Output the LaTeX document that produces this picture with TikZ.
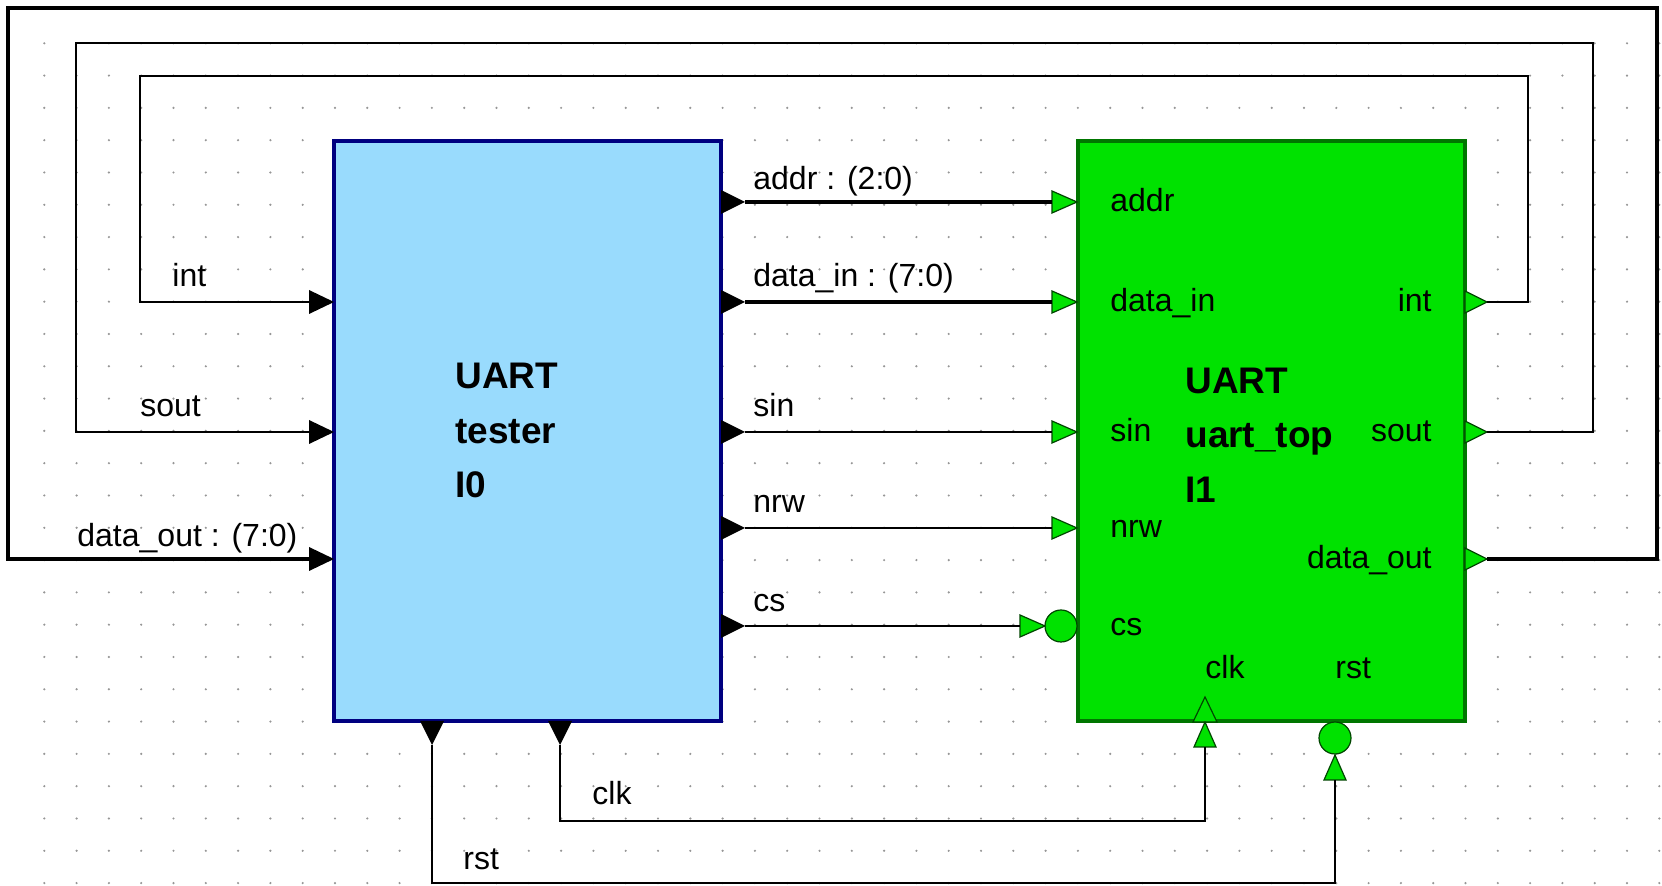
\documentclass[tikz,border=0pt]{standalone}
\usepackage{fontspec}
\setmainfont{Liberation Sans}
\usetikzlibrary{calc}

\definecolor{testerblue}{RGB}{153,219,253}
\definecolor{testeredge}{RGB}{0,0,128}
\definecolor{uartgreen}{RGB}{0,226,0}
\definecolor{uartedge}{RGB}{0,118,0}
\definecolor{pinedge}{RGB}{0,70,0}
\definecolor{griddot}{RGB}{150,150,150}

\tikzset{
  tpinout/.pic={\fill (0,-12) -- (24,0) -- (0,12) -- cycle; \coordinate (-end) at (24,0);},
  tpinin/.pic={\fill (-25,-12) -- (0,0) -- (-25,12) -- cycle; \coordinate (-end) at (-25,0);},
  upinin/.pic={\filldraw[grnpin] (-25,-11) -- (0,0) -- (-25,11) -- cycle; \coordinate (-end) at (-25,0);},
  upinout/.pic={\filldraw[grnpin] (0,-11) -- (22,0) -- (0,11) -- cycle; \coordinate (-end) at (22,0);}
}

\begin{document}
\begin{tikzpicture}[
x=0.5pt, y=-0.5pt,
wire/.style={line width=1pt},
bus/.style={line width=2pt},
blockbox/.style={line width=2pt, minimum width=193.5pt, minimum height=290pt, inner sep=0pt},
testerblk/.style={blockbox, draw=testeredge, fill=testerblue},
uartblk/.style={blockbox, draw=uartedge, fill=uartgreen},
grnpin/.style={fill=uartgreen, draw=pinedge, line width=0.6pt},
bubble/.style={circle, minimum size=16pt, inner sep=0pt, fill=uartgreen, draw=pinedge, line width=0.6pt},
sig/.style={font=\fontsize{16}{19}\selectfont, inner sep=0pt, anchor=base west},
portr/.style={sig, anchor=base east},
blkname/.style={font=\fontsize{18.5}{27.25}\selectfont\bfseries, align=left, anchor=west, inner sep=0pt}
]
\path[use as bounding box, fill=white] (0,0) rectangle (1662,886);

% dot grid
\foreach \i in {1,...,51} {
  \foreach \j in {1,...,27} {
    \fill[griddot] (12+32.3*\i,11+32.3*\j) circle (0.6pt);
  }
}

% blocks
\node[testerblk] (tester) at (527.5,431) {};
\node[uartblk] (uart) at (1271,431.5) {};
\node[blkname] (tester-name) at (455,430.5) {UART\\tester\\I0};
\node[blkname] (uart-name) at (1185,435) {UART\\uart\_top\\I1};

% tester pins
\pic (t-addr) at (721,202) {tpinout};
\pic (t-din) at (721,302) {tpinout};
\pic (t-sin) at (721,432) {tpinout};
\pic (t-nrw) at (721,528) {tpinout};
\pic (t-cs) at (721,626) {tpinout};
\pic (t-int) at (334,302) {tpinin};
\pic (t-sout) at (334,432) {tpinin};
\pic (t-dout) at (334,559) {tpinin};
\pic[rotate=-90] (t-rst) at (432,721) {tpinout};
\pic[rotate=-90] (t-clk) at (560,721) {tpinout};

% uart_top pins
\pic (u-addr) at (1077,202) {upinin};
\pic (u-din) at (1077,302) {upinin};
\pic (u-sin) at (1077,432) {upinin};
\pic (u-nrw) at (1077,528) {upinin};
\node[bubble] (u-csbub) at (1061,626) {};
\pic (u-cs) at (1045,626) {upinin};
\pic (u-int) at (1465,302) {upinout};
\pic (u-sout) at (1465,432) {upinout};
\pic (u-dout) at (1465,559) {upinout};
\filldraw[grnpin] (1193,722) -- (1205,697) -- (1217,722) -- cycle;
\pic[rotate=90] (u-clk) at (1205,722) {upinin};
\node[bubble] (u-rstbub) at (1335,738) {};
\pic[rotate=90] (u-rst) at (1335,755) {upinin};

% wires
\draw[bus] (t-addr-end) -- (u-addr-end);
\draw[bus] (t-din-end) -- (u-din-end);
\draw[wire] (t-sin-end) -- (u-sin-end);
\draw[wire] (t-nrw-end) -- (u-nrw-end);
\draw[wire] (t-cs-end) -- (u-cs-end);
\draw[wire] (u-int-end) -- ++(41,0) |- (140,76) |- (t-int-end);
\draw[wire] (u-sout-end) -- ++(106,0) |- (76,43) |- (t-sout-end);
\draw[bus] (u-dout-end) -- ++(170,0) |- (8,8) |- (t-dout-end);
\draw[wire] (t-clk-end) -- ++(0,76) -| (u-clk-end);
\draw[wire] (t-rst-end) -- ++(0,138) -| (u-rst-end);

% net labels
\node[sig] (l-addr) at (753,190) {addr : (2:0)};
\node[sig] (l-din) at (753,287) {data\_in : (7:0)};
\node[sig] (l-sin) at (753,417) {sin};
\node[sig] (l-nrw) at (753,513) {nrw};
\node[sig] (l-cs) at (753,612) {cs};
\node[sig] (l-int) at (172,287) {int};
\node[sig] (l-sout) at (140,417) {sout};
\node[sig] (l-dout) at (77,547) {data\_out : (7:0)};
\node[sig] (l-clk) at (592,805) {clk};
\node[sig] (l-rst) at (463,870) {rst};

% port labels
\node[sig] (p-addr) at (1110,211.5) {addr};
\node[sig] (p-din) at (1110,311.5) {data\_in};
\node[sig] (p-sin) at (1110,441.5) {sin};
\node[sig] (p-nrw) at (1110,537.5) {nrw};
\node[sig] (p-cs) at (1110,635.5) {cs};
\node[portr] (p-int) at (1432,311.5) {int};
\node[portr] (p-sout) at (1432,441.5) {sout};
\node[portr] (p-dout) at (1432,568.5) {data\_out};
\node[sig] (p-clk) at (1205,679) {clk};
\node[sig] (p-rst) at (1335,679) {rst};
\end{tikzpicture}
\end{document}
